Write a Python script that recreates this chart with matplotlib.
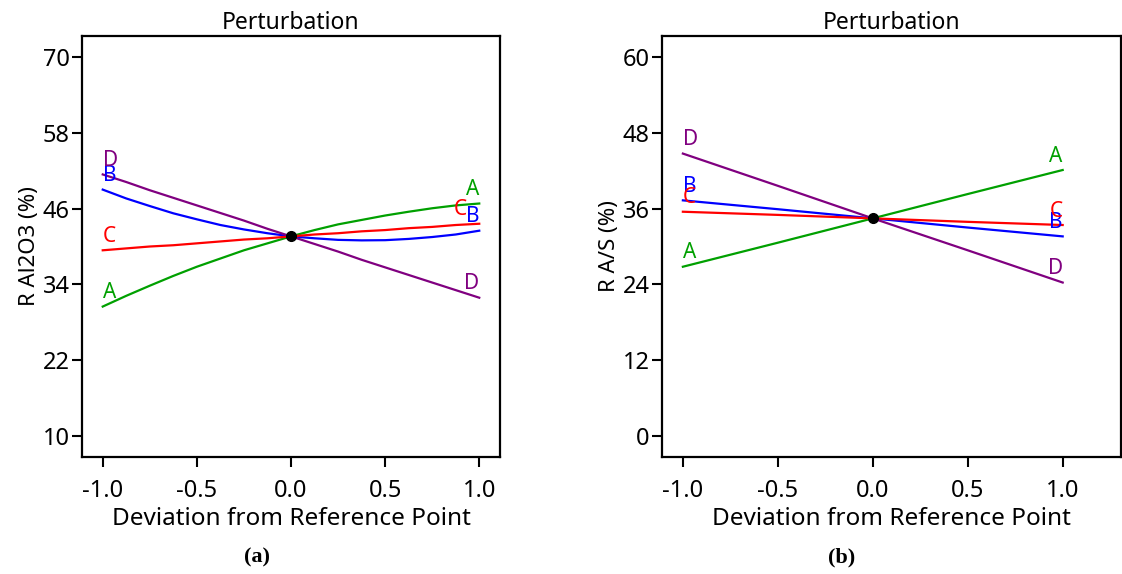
import matplotlib.pyplot as plt

plt.rcParams['font.family'] = ['Noto Sans', 'DejaVu Sans']

# Deviation from reference point (coded units)
dev_a = [-1.0, -0.875, -0.75, -0.625, -0.5, -0.375, -0.25, -0.125, 0.0,
         0.125, 0.25, 0.375, 0.5, 0.625, 0.75, 0.875, 1.0]
dev_b = [-1.0, -0.5, 0.0, 0.5, 1.0]

# Panel (a): R Al2O3 (%)
al_A = [30.5, 32.2, 33.8, 35.35, 36.8, 38.1, 39.4, 40.5, 41.6,
        42.6, 43.5, 44.2, 44.9, 45.5, 46.05, 46.5, 46.8]
al_B = [49.0, 47.6, 46.4, 45.25, 44.3, 43.4, 42.7, 42.1, 41.6,
        41.3, 41.05, 40.97, 41.0, 41.2, 41.5, 41.9, 42.5]
al_C = [39.4, 39.7, 40.0, 40.2, 40.5, 40.8, 41.1, 41.3, 41.6,
        41.9, 42.1, 42.4, 42.6, 42.9, 43.1, 43.4, 43.6]
al_D = [51.4, 50.2, 48.9, 47.7, 46.5, 45.3, 44.1, 42.8, 41.6,
        40.4, 39.2, 37.9, 36.7, 35.5, 34.3, 33.1, 31.9]
al_ref = 41.6
al_ticks = [10, 22, 34, 46, 58, 70]

# Panel (b): R A/S (%)
as_A = [26.8, 30.6, 34.45, 38.3, 42.1]
as_B = [37.3, 35.9, 34.45, 33.0, 31.6]
as_C = [35.5, 35.0, 34.45, 33.9, 33.4]
as_D = [44.7, 39.6, 34.45, 29.4, 24.3]
as_ref = 34.45
as_ticks = [0, 12, 24, 36, 48, 60]

factors = ["A", "B", "C", "D"]
colors = {"A": "#00a000", "B": "#0000ff", "C": "#ff0000", "D": "#800080"}

fig = plt.figure(figsize=(11.22, 5.74), dpi=100)
ax1 = fig.add_axes([0.0731, 0.2038, 0.3725, 0.7335])
ax2 = fig.add_axes([0.5900, 0.2038, 0.4091, 0.7335])


def draw(ax, x, series, ref, ticks, ylabel, xlim, right_shift):
    for name, vals in zip(factors, series):
        c = colors[name]
        ax.plot(x, vals, color=c, lw=1.6)
        ax.annotate(name, (x[0], vals[0]), xytext=(0, 10), textcoords="offset points",
                    ha="left", va="center", color=c, fontsize=15)
        ax.annotate(name, (x[-1], vals[-1]), xytext=(right_shift.get(name, 0), 10),
                    textcoords="offset points", ha="right", va="center", color=c, fontsize=15)
    ax.plot([0], [ref], "o", color="black", ms=7, zorder=5)
    ax.set_xlim(*xlim)
    ax.set_ylim(ticks[0] - 3.3, ticks[-1] + 3.3)
    ax.set_yticks(ticks)
    ax.set_xticks([-1.0, -0.5, 0.0, 0.5, 1.0])
    ax.set_xticklabels(["-1.0", "-0.5", "0.0", "0.5", "1.0"])
    ax.tick_params(direction="out", length=7, width=1.5, labelsize=17)
    ax.tick_params(axis="x", pad=9)
    ax.tick_params(axis="y", pad=2)
    for s in ax.spines.values():
        s.set_linewidth(1.6)
    ax.set_title("Perturbation", fontsize=16.5, pad=5)
    ax.set_xlabel("Deviation from Reference Point", fontsize=17.5, labelpad=3)
    ax.set_ylabel(ylabel, fontsize=16, labelpad=2)


draw(ax1, dev_a, [al_A, al_B, al_C, al_D], al_ref, al_ticks, "R Al2O3 (%)", (-1.11, 1.11), {"C": -9})
draw(ax2, dev_b, [as_A, as_B, as_C, as_D], as_ref, as_ticks, "R A/S (%)", (-1.11, 1.307), {})

fig.text(0.229, 0.028, "(a)", fontsize=16, fontweight="bold", family="Liberation Serif",
         ha="center", va="center")
fig.text(0.750, 0.028, "(b)", fontsize=16, fontweight="bold", family="Liberation Serif",
         ha="center", va="center")

fig.savefig("out.png", dpi=100)
